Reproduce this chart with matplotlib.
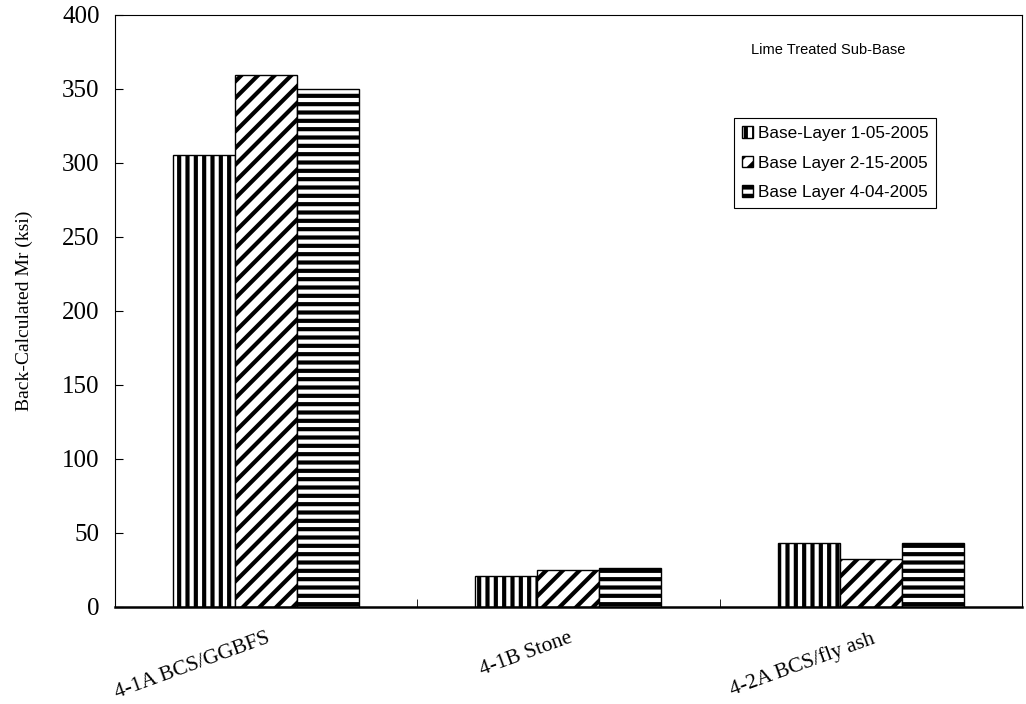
import numpy as np
import matplotlib.pyplot as plt

# 数据
categories = ["4-1A BCS/GGBFS", "4-1B Stone", "4-2A BCS/fly ash"]
series_names = ["Base-Layer 1-05-2005", "Base Layer 2-15-2005", "Base Layer 4-04-2005"]
layer_jan = [305, 21, 43]
layer_feb = [359, 25, 32]
layer_apr = [350, 26, 43]

plt.rcParams["hatch.linewidth"] = 3.0

fig = plt.figure(figsize=(10.26, 7.04), dpi=100)
ax = fig.add_axes([0.112, 0.138, 0.884, 0.841])

x = np.arange(len(categories))
width = 0.205
hatches = ["||", "//", "--"]
for i, (vals, name) in enumerate(zip([layer_jan, layer_feb, layer_apr], series_names)):
    ax.bar(x + (i - 1) * width, vals, width, color="white", edgecolor="black",
           hatch=hatches[i], linewidth=1.0, label=name)

ax.set_xlim(-0.5, 2.5)
ax.set_ylim(0, 400)
ax.set_yticks(np.arange(0, 401, 50))
ax.tick_params(axis="y", direction="in", length=6, labelsize=18, pad=11)
for t in ax.get_yticklabels():
    t.set_family("Liberation Serif")

# x 轴：类别分界处画刻度
ax.set_xticks(x)
ax.set_xticklabels(categories, rotation=20, ha="right", rotation_mode="anchor",
                   family="Liberation Serif", fontsize=15.5)
ax.tick_params(axis="x", which="major", length=0, pad=16)
ax.set_xticks([0.5, 1.5], minor=True)
ax.tick_params(axis="x", which="minor", direction="in", length=6)

ax.spines["bottom"].set_linewidth(1.8)
ax.set_ylabel("Back-Calculated Mr (ksi)", family="Liberation Serif", fontsize=14, labelpad=21)

ax.text(0.786, 0.94, "Lime Treated Sub-Base", transform=ax.transAxes, ha="center",
        va="center", family="Liberation Sans", fontsize=10.5)

leg = ax.legend(loc="upper left", bbox_to_anchor=(0.683, 0.825), prop={"family": "Liberation Sans", "size": 12.3},
                frameon=True, fancybox=False, edgecolor="black", framealpha=1,
                handlelength=0.65, handleheight=0.65, handletextpad=0.3, borderpad=0.45,
                labelspacing=0.85, borderaxespad=0)
leg.get_frame().set_linewidth(0.8)

fig.savefig("out.png", dpi=100)
